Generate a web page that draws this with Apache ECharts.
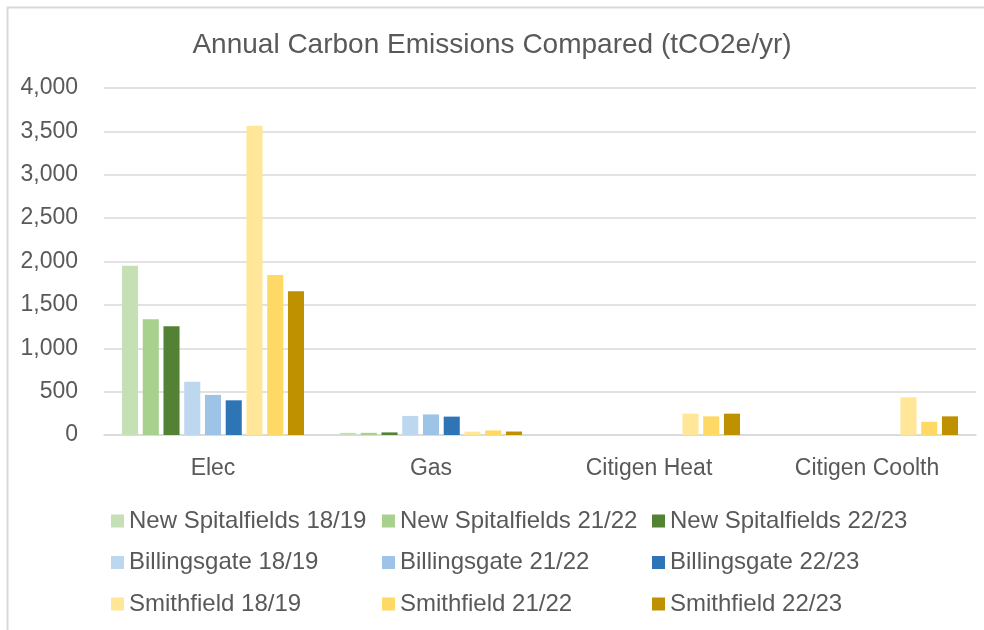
<!DOCTYPE html>
<html>
<head>
<meta charset="utf-8">
<script src="https://cdn.jsdelivr.net/npm/echarts@6/dist/echarts.min.js"></script>
<style>
html,body{margin:0;padding:0;background:#fff;}
#chart{width:984px;height:630px;}
</style>
</head>
<body>
<div id="chart"></div>
<script>
// ---- data ----
const categories = ['Elec', 'Gas', 'Citigen Heat', 'Citigen Coolth'];
const seriesNames = [
  'New Spitalfields 18/19', 'New Spitalfields 21/22', 'New Spitalfields 22/23',
  'Billingsgate 18/19', 'Billingsgate 21/22', 'Billingsgate 22/23',
  'Smithfield 18/19', 'Smithfield 21/22', 'Smithfield 22/23'
];
const newSpitalfields1819 = [1950, 25, null, null];
const newSpitalfields2122 = [1335, 25, null, null];
const newSpitalfields2223 = [1255, 30, null, null];
const billingsgate1819 = [615, 220, null, null];
const billingsgate2122 = [462, 237, null, null];
const billingsgate2223 = [400, 212, null, null];
const smithfield1819 = [3565, 38, 246, 434];
const smithfield2122 = [1845, 53, 215, 152];
const smithfield2223 = [1656, 40, 246, 215];
const yTicks = [0, 500, 1000, 1500, 2000, 2500, 3000, 3500, 4000];

const seriesValues = [
  newSpitalfields1819, newSpitalfields2122, newSpitalfields2223,
  billingsgate1819, billingsgate2122, billingsgate2223,
  smithfield1819, smithfield2122, smithfield2223
];
const colors = ['#C5E0B4', '#A9D18E', '#548235', '#BDD7EE', '#9DC3E6', '#2E75B6', '#FFE699', '#FFD966', '#BF9000'];

const FONT = 'Liberation Sans, Arial, sans-serif';
const TXT = '#595959';

const chart = echarts.init(document.getElementById('chart'), null, {renderer: 'canvas'});

const legendCols = [106, 377, 647];
const legends = legendCols.map((x, c) => ({
  orient: 'vertical',
  left: x,
  top: 504,
  itemWidth: 13,
  itemHeight: 13,
  itemGap: 17.5,
  itemTextGap: 7,
  icon: 'rect',
  selectedMode: false,
  textStyle: {fontFamily: FONT, fontSize: 24, color: TXT, lineHeight: 24},
  data: [seriesNames[c], seriesNames[c + 3], seriesNames[c + 6]]
}));

const option = {
  animation: false,
  backgroundColor: '#fff',
  color: colors,
  title: {
    text: 'Annual Carbon Emissions Compared (tCO2e/yr)',
    left: 'center',
    top: 26,
    textStyle: {fontFamily: FONT, fontSize: 28, fontWeight: 'normal', color: TXT}
  },
  legend: legends,
  graphic: [{
    type: 'rect',
    shape: {x: 7.5, y: 7.5, width: 1000, height: 700},
    style: {fill: 'none', stroke: '#D9D9D9', lineWidth: 2},
    silent: true
  }],
  grid: {left: 104, right: 8, top: 88, bottom: 195, containLabel: false},
  xAxis: {
    type: 'category',
    data: categories,
    axisLine: {lineStyle: {color: '#D9D9D9', width: 1.5}},
    axisTick: {show: false},
    axisLabel: {fontFamily: FONT, fontSize: 23, color: TXT, margin: 22}
  },
  yAxis: {
    type: 'value',
    min: 0,
    max: 4000,
    interval: 500,
    axisLine: {show: false},
    axisTick: {show: false},
    splitLine: {lineStyle: {color: '#D9D9D9', width: 1.5}},
    axisLabel: {
      fontFamily: FONT, fontSize: 23, color: TXT, margin: 26,
      formatter: v => yTicks.includes(v) ? v.toLocaleString('en-US') : ''
    }
  },
  series: seriesNames.map((name, i) => ({
    name: name,
    type: 'bar',
    data: seriesValues[i],
    barGap: '29%',
    barCategoryGap: '16.5%',
    itemStyle: {color: colors[i]}
  }))
};
chart.setOption(option);
</script>
</body>
</html>
